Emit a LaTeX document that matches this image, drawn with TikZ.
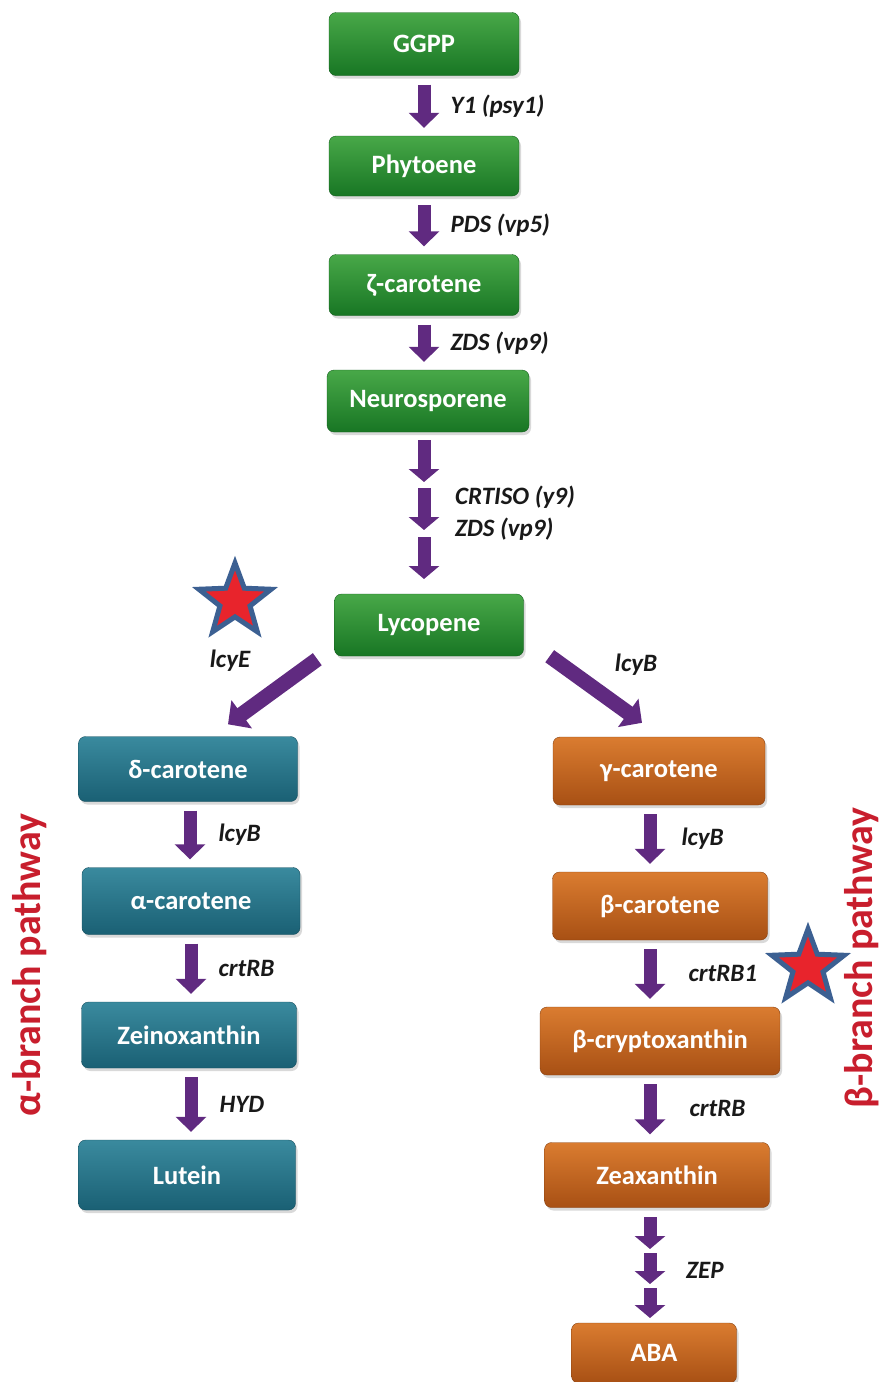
\documentclass[tikz,border=0pt]{standalone}
\usepackage{fontspec}
\setmainfont{Carlito}
\usepackage{tikz}
\usetikzlibrary{arrows.meta,calc,shapes.geometric,shadows}

\definecolor{greenT}{RGB}{72,168,72}
\definecolor{greenB}{RGB}{24,118,36}
\definecolor{tealT}{RGB}{58,138,158}
\definecolor{tealB}{RGB}{26,96,116}
\definecolor{orangeT}{RGB}{218,124,48}
\definecolor{orangeB}{RGB}{168,80,20}
\definecolor{arrowpurple}{RGB}{96,42,128}
\definecolor{pathred}{RGB}{200,30,45}
\definecolor{starblue}{RGB}{60,96,146}
\definecolor{starred}{RGB}{232,36,44}

\begin{document}
\begin{tikzpicture}[x=1pt,y=-1pt,>=latex]
	\tikzstyle{box}=[rectangle, rounded corners=7pt, minimum height=64pt, text=white,
		font=\fontsize{26.5}{30}\selectfont\bfseries, drop shadow={opacity=0.3,shadow xshift=2pt,shadow yshift=-3pt}]
	\tikzstyle{gbox}=[box, top color=greenT, bottom color=greenB, draw=greenB!80!black]
	\tikzstyle{tbox}=[box, top color=tealT, bottom color=tealB, draw=tealB!80!black]
	\tikzstyle{obox}=[box, top color=orangeT, bottom color=orangeB, draw=orangeB!80!black]
	\tikzstyle{flow}=[line width=13pt, draw=arrowpurple, -{Triangle[width=30pt,length=15pt]}, shorten <=9pt, shorten >=8pt]
	\tikzstyle{bigflow}=[line width=15pt, draw=arrowpurple, -{Triangle[width=34pt,length=17pt]}]
	\tikzstyle{smallflow}=[line width=13pt, draw=arrowpurple, -{Triangle[width=30pt,length=13pt]}]
	\tikzstyle{lbl}=[font=\fontsize{25}{32}\selectfont\bfseries\itshape, text=black!90, inner sep=0pt]
	\tikzstyle{side}=[font=\fontsize{40}{42}\selectfont\bfseries, text=pathred, rotate=90]
	\tikzstyle{mark star}=[star, star points=5, star point ratio=2.4, minimum size=76pt, fill=starred, draw=starblue, line width=5pt, inner sep=0pt]

	\useasboundingbox (0,0) rectangle (883,1382);

	% main chain
	\node (ggpp) [gbox, minimum width=190pt, minimum height=63pt] at (424,44) {GGPP};
	\node (phyt) [gbox, minimum width=190pt, minimum height=60pt] at (424,166) {Phytoene};
	\node (zeta) [gbox, minimum width=190pt, minimum height=61pt] at (424,285) {ζ-carotene};
	\node (neuro) [gbox, minimum width=202pt, minimum height=62pt] at (428,401) {Neurosporene};
	\node (lyco) [gbox, minimum width=189pt, minimum height=62pt] at (429,625) {Lycopene};

	\draw [flow] (ggpp.south) -- (ggpp.south |- phyt.north) node[midway, right=20pt, lbl] {Y1 (psy1)};
	\draw [flow] (phyt.south) -- (phyt.south |- zeta.north) node[midway, right=20pt, lbl] {PDS (vp5)};
	\draw [flow] (zeta.south) -- (zeta.south |- neuro.north) node[midway, right=20pt, lbl] {ZDS (vp9)};

	\coordinate (n1) at (424,440);
	\coordinate (n2) at (424,488);
	\coordinate (n3) at (424,537);
	\draw [smallflow] (n1) -- ++(0,42);
	\draw [smallflow] (n2) -- ++(0,42);
	\draw [smallflow] (n3) -- ++(0,42);
	\node (crtiso) [lbl, anchor=west, align=left] at (455,513) {CRTISO (y9)\\ZDS (vp9)};

	% alpha branch
	\node (delta) [tbox, minimum width=219pt, minimum height=65pt] at (188,769) {δ-carotene};
	\node (alpha) [tbox, minimum width=218pt, minimum height=67pt] at (191,901) {α-carotene};
	\node (zein) [tbox, minimum width=215pt, minimum height=66pt] at (189,1035) {Zeinoxanthin};
	\node (lutein) [tbox, minimum width=217pt, minimum height=70pt] at (187,1175) {Lutein};

	\draw [bigflow] ($(lyco.south west)+(-17,3)$) -- ($(delta.north)+(40,-12)$);
	\node (lcye) [lbl] at (230,661) {lcyE};
	\node (star1) [mark star] at (235,601) {};

	\draw [flow] ([xshift=2pt]delta.south) -- ([xshift=2pt]delta.south |- alpha.north) node[midway, right=22pt, lbl] {lcyB};
	\draw [flow] (alpha.south) -- (alpha.south |- zein.north) node[midway, right=21pt, lbl] {crtRB};
	\draw [flow] ([xshift=2pt]zein.south) -- ([xshift=2pt]zein.south |- lutein.north) node[midway, right=22pt, lbl] {HYD};

	% beta branch
	\node (gamma) [obox, minimum width=212pt, minimum height=68pt] at (659,771) {γ-carotene};
	\node (beta) [obox, minimum width=215pt, minimum height=68pt] at (660,906) {β-carotene};
	\node (bcryp) [obox, minimum width=240pt, minimum height=68pt] at (660,1041) {β-cryptoxanthin};
	\node (zeax) [obox, minimum width=225pt, minimum height=65pt] at (657,1175) {Zeaxanthin};
	\node (aba) [obox, minimum width=165pt, minimum height=60pt] at (654,1353) {ABA};

	\draw [bigflow] ($(lyco.south east)+(26,0)$) -- ($(gamma.north)+(-17,-14)$);
	\node (lcyb) [lbl] at (636,665) {lcyB};
	\node (star2) [mark star] at (808,967) {};

	\draw [flow] ([xshift=-9pt]gamma.south) -- ([xshift=-9pt]gamma.south |- beta.north) node[midway, right=25pt, lbl] {lcyB};
	\draw [flow] ([xshift=-10pt]beta.south) -- ([xshift=-10pt]beta.south |- bcryp.north) node[midway, right=32pt, lbl] {crtRB1};
	\draw [flow] ([xshift=-10pt]bcryp.south) -- ([xshift=-10pt]bcryp.south |- zeax.north) node[midway, right=33pt, lbl] {crtRB};

	\coordinate (z1) at (650,1217);
	\coordinate (z2) at (650,1253);
	\coordinate (z3) at (650,1288);
	\draw [smallflow] (z1) -- ++(0,32);
	\draw [smallflow] (z2) -- ++(0,31);
	\draw [smallflow] (z3) -- ++(0,30);
	\node (zep) [lbl, anchor=west] at (686,1270) {ZEP};

	% side labels
	\node (alab) [side] at (30,965) {α-branch pathway};
	\node (blab) [side] at (862,958) {β-branch pathway};
\end{tikzpicture}
\end{document}
